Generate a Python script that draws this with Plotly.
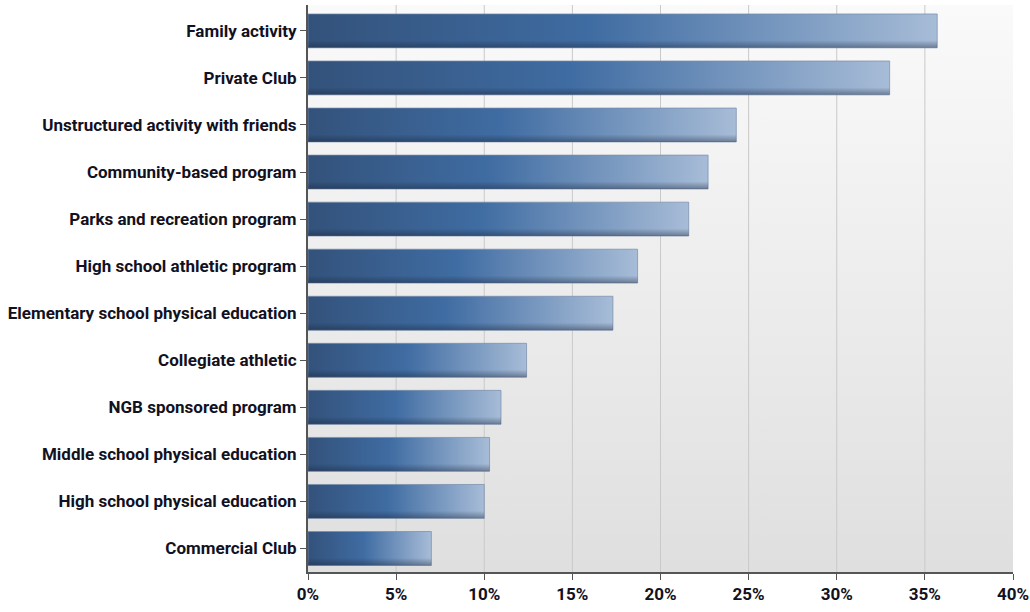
import plotly.graph_objects as go

# Survey categories, top to bottom, and share of respondents (%)
categories = [
    "Family activity",
    "Private Club",
    "Unstructured activity with friends",
    "Community-based program",
    "Parks and recreation program",
    "High school athletic program",
    "Elementary school physical education",
    "Collegiate athletic",
    "NGB sponsored program",
    "Middle school physical education",
    "High school physical education",
    "Commercial Club",
]
values = [35.7, 33.0, 24.3, 22.7, 21.6, 18.7, 17.3, 12.4, 10.95, 10.3, 10.0, 7.0]
x_ticks = [0, 5, 10, 15, 20, 25, 30, 35, 40]
x_max = 40

FONT = "Roboto, Liberation Sans, sans-serif"
half = 0.36            # half bar thickness, in category units
y_top, y_bottom = -0.55, len(categories) - 0.5

fig = go.Figure()

# plot-area background: light at the top, grey towards the bottom
# (vertical gradient runs from screen bottom = 0 to screen top = 1)
fig.add_trace(go.Scatter(
    x=[0, x_max, x_max, 0, 0], y=[y_top, y_top, y_bottom, y_bottom, y_top],
    mode="lines", line=dict(width=0), fill="toself",
    fillgradient=dict(type="vertical",
                      colorscale=[[0, "#dfdfdf"], [1, "#fafafa"]]),
    hoverinfo="skip",
))

# vertical gridlines
gx, gy = [], []
for t in x_ticks[1:-1]:
    gx += [t, t, None]
    gy += [y_top, y_bottom, None]
fig.add_trace(go.Scatter(x=gx, y=gy, mode="lines",
                         line=dict(color="#c9c9c9", width=1), hoverinfo="skip"))

# gradient bars
for i, (cat, v) in enumerate(zip(categories, values)):
    y0, y1 = i - half, i + half
    fig.add_trace(go.Scatter(
        x=[0, v, v, 0, 0], y=[y0, y0, y1, y1, y0],
        mode="lines", line=dict(color="rgba(120,140,170,0.7)", width=1),
        fill="toself",
        fillgradient=dict(type="horizontal",
                          colorscale=[[0, "#33527b"], [0.45, "#3f6ca2"],
                                      [1, "#a7bcd7"]]),
        name=cat, hovertemplate="%{text}<extra></extra>",
        text=[f"{cat}: {v}%"] * 5,
    ))
    # soft shadow along the lower edge of each bar
    s0 = y1 - 0.16
    fig.add_trace(go.Scatter(
        x=[0, v, v, 0, 0], y=[s0, s0, y1, y1, s0],
        mode="lines", line=dict(width=0), fill="toself",
        fillgradient=dict(type="vertical",
                          colorscale=[[0, "rgba(20,30,50,0.4)"],
                                      [1, "rgba(20,30,50,0)"]]),
        hoverinfo="skip",
    ))

tick_font = dict(family=FONT, size=17, weight="bold", color="#111122")
fig.update_layout(
    width=1030, height=612,
    margin=dict(l=308, r=17, t=5, b=40),
    paper_bgcolor="white", plot_bgcolor="white",
    showlegend=False,
    font=dict(family=FONT, size=17, color="#111122", weight="bold"),
    xaxis=dict(
        range=[0, x_max], tickvals=x_ticks, ticktext=[f"{t}%" for t in x_ticks],
        showgrid=False, zeroline=False, automargin=False,
        showline=True, linecolor="#555555", linewidth=2,
        ticks="outside", ticklen=6, tickcolor="#555555", tickwidth=1,
        tickfont=tick_font,
        fixedrange=True,
    ),
    yaxis=dict(
        range=[y_bottom, y_top],
        tickvals=list(range(len(categories))), ticktext=categories,
        showgrid=False, zeroline=False, automargin=False,
        showline=True, linecolor="#555555", linewidth=2,
        ticks="outside", ticklen=6, tickcolor="#555555", tickwidth=1,
        tickfont=tick_font,
        fixedrange=True,
    ),
)

fig.write_html("out.html")
